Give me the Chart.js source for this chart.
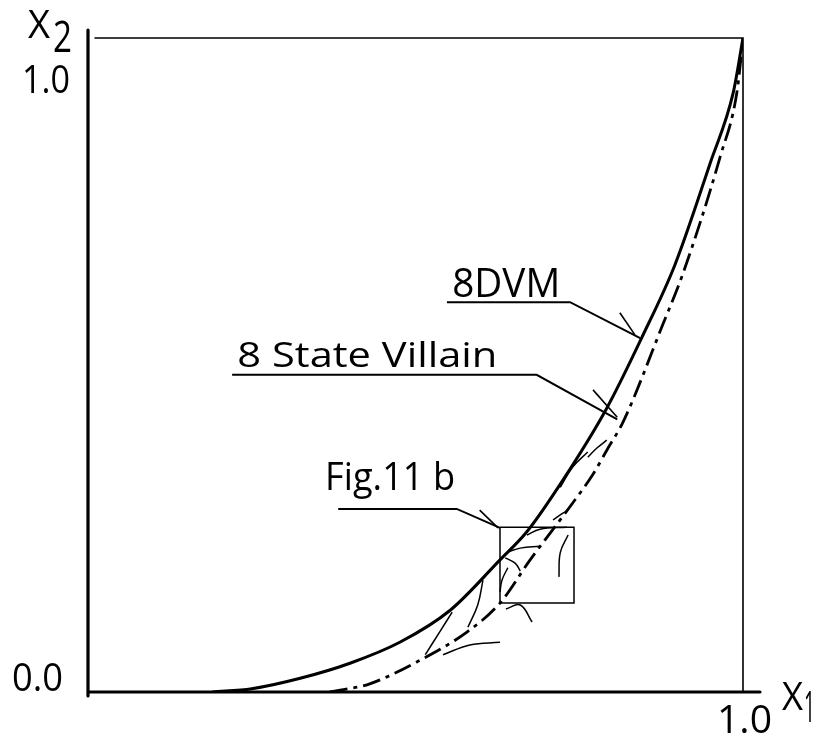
<!DOCTYPE html>
<html>
<head>
<meta charset="utf-8">
<script src="https://cdn.jsdelivr.net/npm/chart.js@4.4.1/dist/chart.umd.min.js"></script>
<style>
  body { margin: 0; background: #fff; }
  canvas { display: block; }
</style>
</head>
<body>
<canvas id="chartCurvas" width="822" height="741"></canvas>
<script>
// curvas (x1, x2)
const dvmX1 = [0.19, 0.25, 0.324, 0.4, 0.476, 0.553, 0.629, 0.67, 0.725, 0.792, 0.846, 0.896, 0.95, 0.985, 1.0]
const dvmX2 = [0.0, 0.005, 0.021, 0.044, 0.076, 0.125, 0.202, 0.245, 0.324, 0.434, 0.543, 0.653, 0.809, 0.916, 1.0]

const villainX1 = [0.369, 0.385, 0.426, 0.502, 0.579, 0.629, 0.675, 0.74, 0.771, 0.794, 0.817, 0.878, 0.908, 0.965, 0.991, 1.0]
const villainX2 = [0.0, 0.003, 0.011, 0.046, 0.092, 0.136, 0.202, 0.289, 0.333, 0.373, 0.413, 0.563, 0.639, 0.818, 0.919, 1.0]

const yTickLabels = ["0.0", "1.0"]
const xTickLabels = ["1.0"]
const axisNames = { x: ["X", "1"], y: ["X", "2"] }

const curveLabels = ["8DVM", "8 State Villain", "Fig.11 b"]

// lineas guia de las etiquetas
const leaderDvm = [[0.548, 0.596], [0.736, 0.596], [0.843, 0.541]]
const leaderVillain = [[0.22, 0.485], [0.685, 0.485], [0.808, 0.417]]
const leaderFig = [[0.382, 0.28], [0.563, 0.28], [0.629, 0.251]]
const leaderTicks = [
  [[0.812, 0.58], [0.835, 0.546]],
  [[0.771, 0.462], [0.808, 0.42]],
  [[0.598, 0.278], [0.626, 0.251]],
]

// recuadro Fig.11 b
const zoomBox = [[0.629, 0.252], [0.742, 0.252], [0.742, 0.136], [0.629, 0.136], [0.629, 0.252]]

// trazos de flujo dibujados a mano
const flowStrokes = [
  [[0.67, 0.24], [0.69, 0.249], [0.731, 0.252]],
  [[0.64, 0.214], [0.66, 0.22], [0.69, 0.223]],
  [[0.637, 0.205], [0.652, 0.197], [0.66, 0.185]],
  [[0.641, 0.19], [0.632, 0.171], [0.629, 0.153]],
  [[0.603, 0.171], [0.595, 0.133], [0.58, 0.099]],
  [[0.719, 0.176], [0.721, 0.213], [0.733, 0.24]],
  [[0.638, 0.127], [0.66, 0.133], [0.678, 0.107]],
  [[0.542, 0.057], [0.583, 0.072], [0.629, 0.076]],
  [[0.556, 0.122], [0.537, 0.092], [0.515, 0.057]],
  [[0.71, 0.263], [0.721, 0.271], [0.733, 0.278]],
  [[0.721, 0.313], [0.74, 0.344], [0.763, 0.367]],
  [[0.763, 0.359], [0.777, 0.373], [0.792, 0.385]],
]

function toPoints(xs, ys) {
  return xs.map((x, i) => ({ x: x, y: ys[i] }))
}

function pairs(list) {
  return list.map((p) => ({ x: p[0], y: p[1] }))
}

function thinLine(points, width, tension) {
  return {
    data: pairs(points),
    showLine: true,
    borderColor: "#000",
    borderWidth: width,
    pointRadius: 0,
    tension: tension || 0,
    fill: false,
  }
}

const FONT = "'Open Sans', 'DejaVu Sans', sans-serif"

function drawFitted(ctx, text, x, y, size, width) {
  ctx.font = size + "px " + FONT
  const w = ctx.measureText(text).width
  ctx.save()
  ctx.translate(x, y)
  ctx.scale(width / w, 1)
  ctx.fillText(text, 0, 0)
  ctx.restore()
}

const framePlugin = {
  id: "marco",
  afterDatasetsDraw(chart) {
    const ctx = chart.ctx
    const xs = chart.scales.x
    const ys = chart.scales.y
    const l = xs.getPixelForValue(0)
    const r = xs.getPixelForValue(1)
    const t = ys.getPixelForValue(1)
    const b = ys.getPixelForValue(0)

    ctx.save()
    ctx.strokeStyle = "#000"
    ctx.lineCap = "round"
    ctx.lineWidth = 1.6
    ctx.beginPath()
    ctx.moveTo(l + 7, t)
    ctx.lineTo(r, t)
    ctx.lineTo(r, b)
    ctx.stroke()
    ctx.lineWidth = 3.2
    ctx.beginPath()
    ctx.moveTo(l, t - 8)
    ctx.lineTo(l, b + 4)
    ctx.moveTo(l, b)
    ctx.lineTo(r + 17, b)
    ctx.stroke()

    ctx.fillStyle = "#000"
    ctx.textBaseline = "alphabetic"
    ctx.textAlign = "left"
    // marcas de los ejes
    drawFitted(ctx, yTickLabels[1], l - 66, t + 55, 39, 48)
    drawFitted(ctx, yTickLabels[0], l - 76, b - 1, 39, 51)
    drawFitted(ctx, xTickLabels[0], r - 26, b + 41, 39, 55)
    drawFitted(ctx, axisNames.y[0], l - 60, t, 39, 22)
    drawFitted(ctx, axisNames.y[1], l - 35, t + 14, 43, 19)
    drawFitted(ctx, axisNames.x[0], r + 39, b + 18, 39, 21)
    drawFitted(ctx, axisNames.x[1], r + 61, b + 30, 43, 11)

    // rotulos de curvas
    drawFitted(ctx, curveLabels[0], xs.getPixelForValue(0.556), ys.getPixelForValue(0.604), 40, 108)
    drawFitted(ctx, curveLabels[1], xs.getPixelForValue(0.228), ys.getPixelForValue(0.497), 35, 260)
    drawFitted(ctx, curveLabels[2], xs.getPixelForValue(0.362), ys.getPixelForValue(0.309), 38, 130)
    ctx.restore()
  },
}

const datasets = [
  {
    label: "8DVM",
    data: toPoints(dvmX1, dvmX2),
    showLine: true,
    borderColor: "#000",
    borderWidth: 3,
    pointRadius: 0,
    cubicInterpolationMode: "monotone",
    fill: false,
  },
  {
    label: "8 State Villain",
    data: toPoints(villainX1, villainX2),
    showLine: true,
    borderColor: "#000",
    borderWidth: 2.8,
    borderDash: [18, 6, 4, 6],
    pointRadius: 0,
    cubicInterpolationMode: "monotone",
    fill: false,
  },
  thinLine(leaderDvm, 2),
  thinLine(leaderVillain, 2),
  thinLine(leaderFig, 2),
  thinLine(zoomBox, 1.5),
]
leaderTicks.forEach((t) => datasets.push(thinLine(t, 1.6)))
flowStrokes.forEach((s) => datasets.push(thinLine(s, 1.5, 0.4)))

new Chart(document.getElementById("chartCurvas"), {
  type: "scatter",
  data: { datasets: datasets },
  options: {
    responsive: false,
    animation: false,
    layout: { padding: { left: 88, right: 79, top: 38, bottom: 49 } },
    plugins: { legend: { display: false }, tooltip: { enabled: false } },
    scales: {
      x: { type: "linear", min: 0, max: 1, display: false },
      y: { type: "linear", min: 0, max: 1, display: false },
    },
  },
  plugins: [framePlugin],
})
</script>
</body>
</html>
